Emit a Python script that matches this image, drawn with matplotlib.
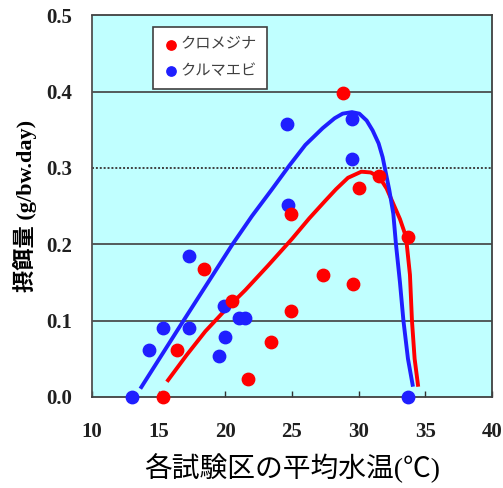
import matplotlib
matplotlib.use("Agg")
import matplotlib.pyplot as plt

# measured intake vs. mean water temperature
red_x = [15.3, 16.4, 18.4, 20.5, 21.7, 23.4, 24.9, 24.9, 27.3, 28.8, 29.6, 30.0, 31.55, 33.7]
red_y = [0.0, 0.061, 0.167, 0.126, 0.024, 0.072, 0.112, 0.240, 0.160, 0.398, 0.148, 0.273, 0.290, 0.210]
blue_x = [13.0, 14.3, 15.35, 17.3, 17.3, 19.55, 19.9, 20.0, 21.0, 21.5, 24.7, 24.6, 29.5, 29.5, 33.7]
blue_y = [0.0, 0.062, 0.090, 0.185, 0.090, 0.054, 0.119, 0.079, 0.104, 0.104, 0.252, 0.358, 0.364, 0.311, 0.0]

# fitted curves
blue_fit_x = [13.7, 15.3, 16.9, 18.7, 20.5, 22.0, 23.5, 24.8, 26.0, 27.3, 28.2, 28.8, 29.5, 30.05,
              30.6, 31.05, 31.5, 31.8, 32.3, 32.6, 32.8, 33.1, 33.36, 33.7, 34.05]
blue_fit_y = [0.013, 0.057, 0.101, 0.150, 0.199, 0.237, 0.272, 0.303, 0.330, 0.352, 0.365, 0.371,
              0.373, 0.371, 0.362, 0.349, 0.332, 0.314, 0.271, 0.240, 0.200, 0.150, 0.100, 0.050, 0.016]
red_fit_x = [15.7, 17.1, 18.5, 20.0, 21.5, 23.2, 25.0, 26.3, 27.5, 28.3, 29.2, 30.2, 30.9, 31.55,
             32.1, 32.55, 33.1, 33.55, 33.85, 34.0, 34.2, 34.45]
red_fit_y = [0.022, 0.055, 0.086, 0.114, 0.140, 0.172, 0.207, 0.234, 0.257, 0.272, 0.287, 0.295,
             0.294, 0.288, 0.273, 0.255, 0.233, 0.210, 0.160, 0.100, 0.050, 0.016]

x_ticks = [10, 15, 20, 25, 30, 35, 40]
y_ticks = [0.0, 0.1, 0.2, 0.3, 0.4, 0.5]

red = "#ff0000"
blue = "#1f1fff"
num_font = "Liberation Serif"
jp_font = ["Liberation Serif", "Noto Sans CJK JP"]

fig = plt.figure(figsize=(5.03, 4.88), dpi=100)
ax = fig.add_axes([0.183, 0.1865, 0.795, 0.7825])
ax.set_facecolor("#c0ffff")

for yv in [0.1, 0.2, 0.4]:
    ax.axhline(yv, color="#404040", lw=1.2, zorder=1)
ax.axhline(0.3, color="#404040", lw=1.4, ls=(0, (1, 1)), zorder=1)

ax.plot(red_fit_x, red_fit_y, color=red, lw=2.8, zorder=2, solid_joinstyle="round")
ax.plot(blue_fit_x, blue_fit_y, color=blue, lw=2.8, zorder=2, solid_joinstyle="round")
ax.scatter(blue_x, blue_y, s=80, color=blue, zorder=3, clip_on=False, label="クルマエビ")
ax.scatter(red_x, red_y, s=80, color=red, zorder=3, clip_on=False, label="クロメジナ")

ax.set_xlim(10, 40)
ax.set_ylim(0, 0.5)
ax.set_xticks(x_ticks)
ax.set_yticks(y_ticks)
ax.set_xticklabels([str(v) for v in x_ticks], fontfamily=num_font, fontweight="bold", fontsize=15)
ax.set_yticklabels(["%.1f" % v for v in y_ticks], fontfamily=num_font, fontweight="bold", fontsize=15)
ax.tick_params(axis="x", direction="in", length=4, width=1, pad=18, colors="#303030")
ax.tick_params(axis="y", length=0, pad=14)
for lab in ax.get_xticklabels() + ax.get_yticklabels():
    lab.set_color("#202020")

for side in ["top", "right", "bottom"]:
    ax.spines[side].set_color("#404040")
    ax.spines[side].set_linewidth(1.3)
ax.spines["left"].set_color("#505050")
ax.spines["left"].set_linestyle((0, (1, 1)))
ax.spines["left"].set_linewidth(1.3)

ax.set_xlabel("各試験区の平均水温(℃)", fontfamily=jp_font, fontsize=20, labelpad=8)
ax.set_ylabel("摂餌量 (g/bw.day)", fontfamily=jp_font, fontweight="bold", fontsize=16, labelpad=7)

handles, labels = ax.get_legend_handles_labels()
leg = ax.legend(handles[::-1], labels[::-1], loc="upper left", bbox_to_anchor=(0.152, 0.968),
                prop={"family": jp_font, "size": 11}, frameon=True, fancybox=False,
                handletextpad=0.1, handlelength=1.0, borderpad=0.7, labelspacing=0.85,
                borderaxespad=0, markerscale=0.75)
leg.get_frame().set_edgecolor("#404040")
leg.get_frame().set_linewidth(1.2)
leg.get_frame().set_facecolor("white")
leg.get_frame().set_alpha(1)
for t in leg.get_texts():
    t.set_color("#404040")

fig.savefig("out.png", dpi=100)
